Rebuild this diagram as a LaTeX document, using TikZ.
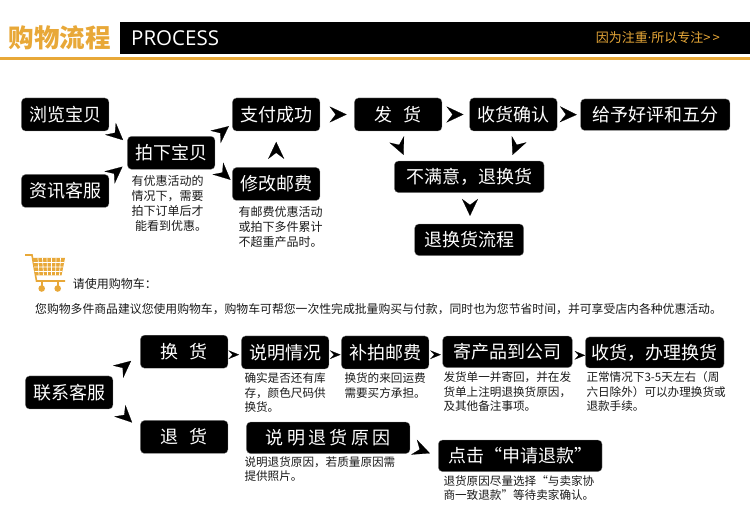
\documentclass[tikz,border=0pt]{standalone}
\usepackage{xcolor}
\usepackage{fontspec}
\setmainfont{Noto Sans CJK SC}
\newfontfamily\procfont{Open Sans}
\newfontfamily\spacedfont[LetterSpace=19]{Noto Sans CJK SC}
\definecolor{shopOrange}{HTML}{E8A838}
\usetikzlibrary{arrows.meta, calc}

\tikzset{
  flowbox/.style={fill=black, draw=black!45, line width=0.3pt, rounded corners=4pt, text=white, inner sep=0pt, minimum height=33pt, font=\fontsize{18}{20}\selectfont},
  notetext/.style={anchor=north west, inner sep=0pt, align=left, text=black!90, font=\fontsize{11.6}{14.5}\selectfont},
  noteupper/.style={notetext, font=\fontsize{12}{15}\selectfont},
  bigflow/.style={-{Stealth[length=17pt, width=16pt, inset=6pt]}, line width=0.2pt},
  smallflow/.style={-{Stealth[length=10.6pt, width=8.6pt, inset=4pt]}, line width=0.2pt}
}

\begin{document}
\begin{tikzpicture}[x=1pt, y=-1pt]
  \useasboundingbox (0,0) rectangle (750,518);

  \node[inner sep=0pt, text=shopOrange, font=\fontsize{25.5}{28}\selectfont\bfseries] (shopTitle) at (60,38) {购物流程};
  \node[fill=black, inner sep=0pt, minimum width=630pt, minimum height=32pt] (titleBar) at (435,38) {};
  \node[inner sep=0pt, anchor=west, text=white, font=\fontsize{20.5}{24}\selectfont\procfont] (procText) at (131,38) {PROCESS};
  \node[inner sep=0pt, anchor=east, text=shopOrange, font=\fontsize{13}{15}\selectfont] (sloganText) at (720,37.5) {因为注重{\procfont ·}所以专注>\kern2pt>};
  \draw[shopOrange, line width=2.7pt] (0,58.7) -- (750,58.7);

  \node[flowbox, minimum width=87.5pt] (browseItem) at (65.2,114.5) {浏览宝贝};
  \node[flowbox, minimum width=87.5pt] (askService) at (65.2,191) {资讯客服};
  \node[flowbox, minimum width=87.5pt] (placeOrder) at (171.2,152.8) {拍下宝贝};
  \node[flowbox, minimum width=87.5pt] (paySuccess) at (276.2,114.5) {支付成功};
  \node[flowbox, minimum width=87.5pt] (changeFee) at (276.2,184) {修改邮费};
  \node[flowbox, minimum width=87.5pt] (shipGoods) at (398.2,114.5) {发\hspace{10.5pt}货};
  \node[flowbox, minimum width=87.5pt] (confirmGoods) at (513.4,114.5) {收货确认};
  \node[flowbox, minimum width=149.3pt, minimum height=31.5pt] (giveRating) at (655.3,114.7) {给予好评和五分};
  \node[flowbox, minimum width=149.7pt, minimum height=31.5pt] (notHappy) at (469.2,176.8) {不满意，退换货};
  \node[flowbox, minimum width=109pt, minimum height=31.5pt] (returnFlow) at (469.2,239.8) {退换货流程};

  \node[noteupper] (placeNote) at (131.5,175.5) {有优惠活动的\\情况下，需要\\拍下订单后才\\\hspace*{3.5pt}能看到优惠。};
  \node[noteupper] (feeNote) at (238.3,206.5) {有邮费优惠活动\\或拍下多件累计\\不超重产品时。};

  \draw[bigflow] ($(browseItem.south east)+(6,1.8)$) -- ($(placeOrder.north west)+(-4.2,4)$);
  \draw[bigflow] ($(askService.north east)+(6,-1.5)$) -- ($(placeOrder.south west)+(-4.8,-2.8)$);
  \draw[bigflow] ($(placeOrder.north east)+(6,-3.7)$) -- ($(paySuccess.south west)+(-3.5,-5)$);
  \draw[bigflow] ($(placeOrder.south east)+(6.6,2.5)$) -- ($(changeFee.north west)+(-1.8,12.5)$);
  \draw[bigflow] ($(changeFee.north)+(0,-15.5)$) -- ($(paySuccess.south)+(0,10.7)$);
  \draw[bigflow] ($(paySuccess.east)+(17,0)$) -- ($(shipGoods.west)+(-7.7,0)$);
  \draw[bigflow] ($(shipGoods.east)+(13,0)$) -- ($(confirmGoods.west)+(-6,0)$);
  \draw[bigflow] ($(confirmGoods.east)+(11,0)$) -- ($(giveRating.west)+(-3.7,0)$);
  \draw[bigflow] ($(shipGoods.south)+(1.3,14.5)$) -- ($(notHappy.north west)+(9.4,-6)$);
  \draw[bigflow] ($(confirmGoods.south)+(3,14.5)$) -- ($(notHappy.north east)+(-31.7,-6)$);
  \draw[bigflow] ($(notHappy.south)+(0.8,13.2)$) -- ($(returnFlow.north)+(0.8,-8)$);

  \draw[shopOrange, line width=1.6pt] (25,255) -- (32,255) -- (36.5,281) -- (65,281);
  \fill[shopOrange] (32.7,258) -- (65,258) -- (61.5,275.5) -- (35.5,275.5) -- cycle;
  \draw[white, line width=0.7pt] (33.5,262.5) -- (64,262.5) (34,267) -- (63,267) (34.5,271.5) -- (62,271.5)
    (38,258) -- (39,275.5) (42.5,258) -- (43.5,275.5) (47,258) -- (47.5,275.5) (51.5,258) -- (51.5,275.5)
    (56,258) -- (55.5,275.5) (60.5,258) -- (59.5,275.5);
  \draw[shopOrange, line width=2pt] (41.7,281) -- (41.7,288) (57.7,281) -- (57.7,288);
  \fill[shopOrange] (41.7,288.5) circle[radius=3.3pt] (57.7,288.5) circle[radius=3.3pt];

  \node[noteupper, anchor=west] (cartTitle) at (72.7,284.3) {请使用购物车：};
  \node[noteupper, anchor=west, font=\fontsize{11.84}{14}\selectfont] (cartText) at (35,309) {您购物多件商品建议您使用购物车，购物车可帮您一次性完成批量购买与付款，同时也为您节省时间，并可享受店内各种优惠活动。};

  \node[flowbox, minimum width=87.5pt] (contactService) at (69.2,392.5) {联系客服};
  \node[flowbox, minimum width=87.5pt] (exchangeGoods) at (184.2,351.7) {换\hspace{10.5pt}货};
  \node[flowbox, minimum width=87.5pt] (refundGoods) at (184.2,437) {退\hspace{10.5pt}货};
  \node[flowbox, minimum width=87.5pt] (explainCase) at (285.2,352.5) {说明情况};
  \node[flowbox, minimum width=87.5pt] (extraFee) at (385.2,352.5) {补拍邮费};
  \node[flowbox, minimum width=129.6pt, minimum height=31.5pt] (sendBack) at (507.5,351.8) {寄产品到公司};
  \node[flowbox, minimum width=138.7pt, minimum height=31pt] (handleExchange) at (654.7,352.5) {收货，办理换货};
  \node[flowbox, minimum width=163.5pt, minimum height=31.5pt, font=\fontsize{18}{20}\selectfont\spacedfont] (refundReason) at (328.2,437.8) {说明退货原因};
  \node[flowbox, minimum width=163.7pt, minimum height=31.5pt] (clickRefund) at (520.2,455.8) {点击“申请退款”};

  \node[notetext] (explainNote) at (244.3,372.5) {确实是否还有库\\存，颜色尺码供\\换货。};
  \node[notetext] (feeBackNote) at (344.3,372.5) {换货的来回运费\\需要买方承担。};
  \node[notetext] (sendNote) at (443.3,371.5) {发货单一并寄回，并在发\\货单上注明退换货原因，\\及其他备注事项。};
  \node[notetext] (handleNote) at (586.3,371.5) {正常情况下3-5天左右（周\\六日除外）可以办理换货或\\退款手续。};
  \node[notetext] (reasonNote) at (244.3,456) {说明退货原因，若质量原因需\\提供照片。};
  \node[notetext] (clickNote) at (443.3,475) {退货原因尽量选择“与卖家协\\商一致退款”等待卖家确认。};

  \draw[bigflow] ($(contactService.north east)+(10.7,-8.9)$) -- ($(exchangeGoods.south west)+(-9.2,-7.5)$);
  \draw[bigflow] ($(contactService.south east)+(11,5.7)$) -- ($(refundGoods.north west)+(-8.2,2.2)$);
  \draw[smallflow] ($(exchangeGoods.east)+(5,3)$) -- ($(explainCase.west)+(-2.2,2.2)$);
  \draw[smallflow] ($(explainCase.east)+(5,2.2)$) -- ($(extraFee.west)+(-0.8,2.2)$);
  \draw[smallflow] ($(extraFee.east)+(5.5,2.2)$) -- ($(sendBack.west)+(-1.7,2.9)$);
  \draw[smallflow] ($(sendBack.east)+(6,3.5)$) -- ($(handleExchange.west)+(0,2.8)$);
  \draw[bigflow] ($(refundReason.south east)+(10,-4.2)$) -- ($(clickRefund.west)+(-8.3,-2.5)$);
\end{tikzpicture}
\end{document}
